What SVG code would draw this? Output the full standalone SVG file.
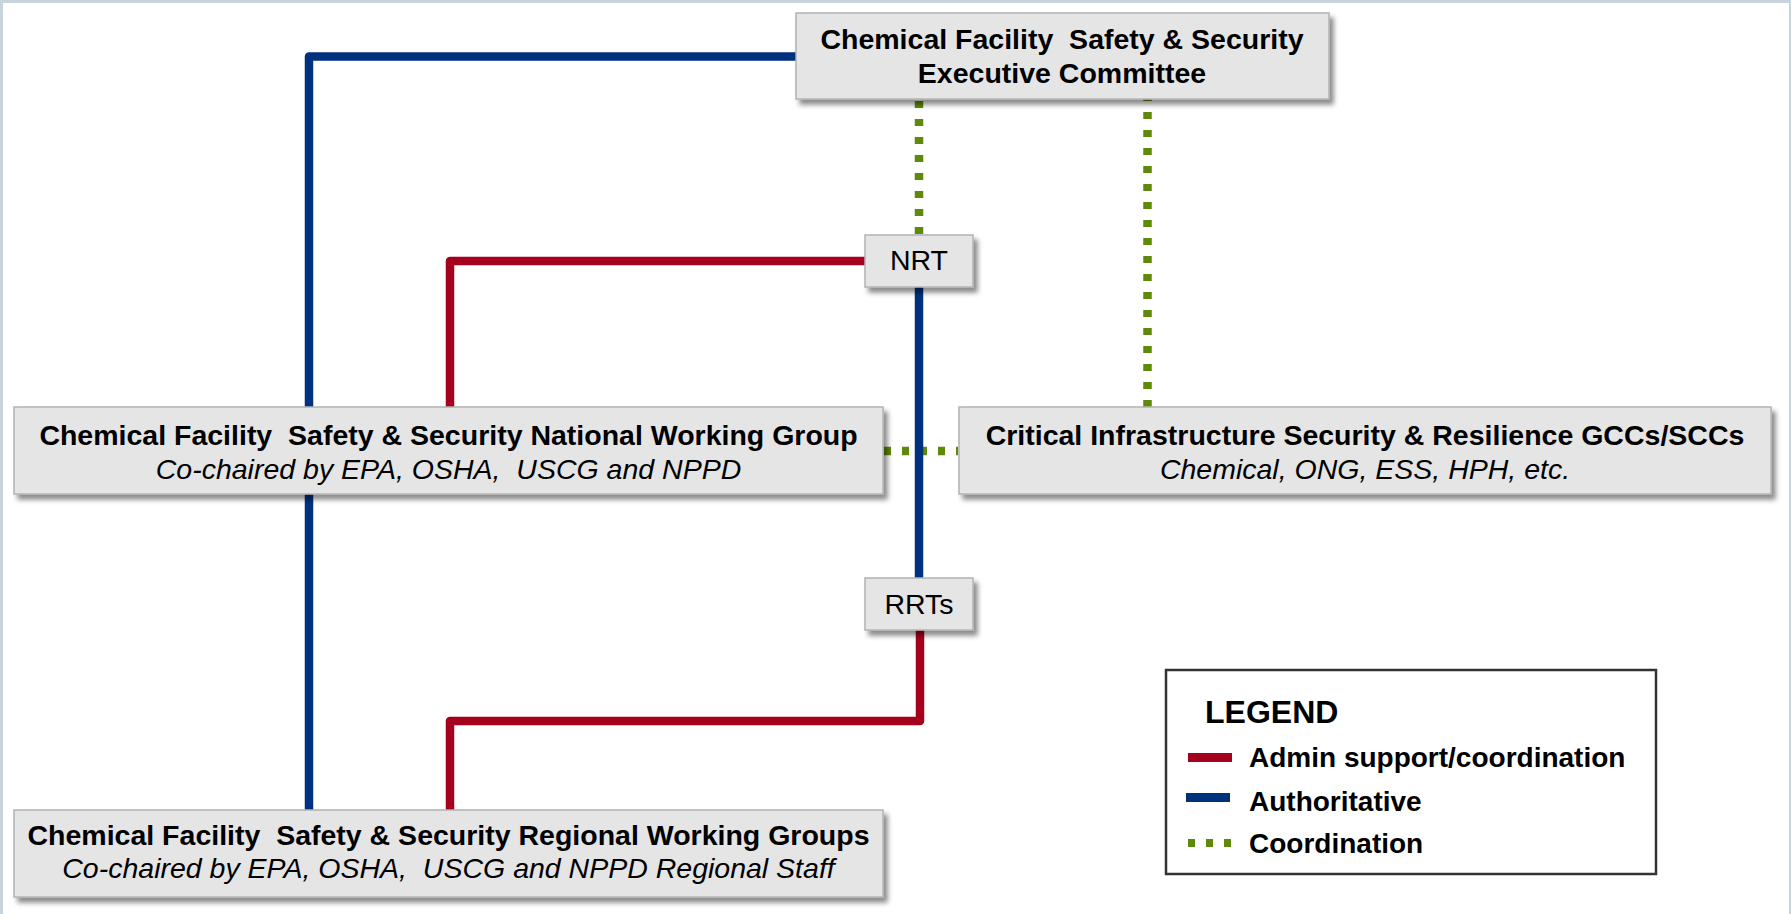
<svg xmlns="http://www.w3.org/2000/svg" width="1791" height="914" viewBox="0 0 1791 914">
<style>
.box{fill:#e5e5e5;stroke:#b3b3b3;stroke-width:1.5;filter:url(#sh)}
.t{font-family:"Liberation Sans",Arial,sans-serif;fill:#000;text-anchor:middle;white-space:pre}
.b{font-weight:bold;font-size:28.5px}
.i{font-style:italic;font-size:28.5px}
.r{font-size:28.5px}
.lt{font-family:"Liberation Sans",Arial,sans-serif;fill:#000;font-weight:bold;font-size:28px}
.blue{fill:none;stroke:#00317f;stroke-width:8.5;stroke-linejoin:round}
.red{fill:none;stroke:#a6001f;stroke-width:8.5;stroke-linejoin:round}
.green{fill:none;stroke:#5e8a0a;stroke-width:8.5;stroke-dasharray:7 11}
</style>
<defs>
<filter id="sh" x="-5%" y="-20%" width="115%" height="150%">
<feDropShadow dx="4" dy="5" stdDeviation="2.5" flood-color="#000" flood-opacity="0.45"/>
</filter>
</defs>
<rect x="0" y="0" width="1791" height="914" fill="#c8d4dc"/>
<rect x="3" y="3" width="1786" height="911" fill="#fff"/>
<g id="connectors">
<path class="blue" d="M796,56.5 H309 V407"/>
<path class="blue" d="M309,494 V810"/>
<path class="red" d="M865,261 H450 V407"/>
<path class="red" d="M920,630 V721 H450 V810"/>
<path class="green" d="M919,101 V235"/>
<path class="green" d="M1147.5,407 V99"/>
<path class="green" d="M884,451 H958"/>
<path class="blue" d="M919,287 V578"/>
</g>
<g id="exec">
<rect class="box" x="796" y="13" width="533" height="86"/>
<text class="t b" x="1062" y="49">Chemical Facility  Safety &amp; Security</text>
<text class="t b" x="1062" y="83">Executive Committee</text>
</g>
<g id="nrt">
<rect class="box" x="865" y="235" width="108" height="52"/>
<text class="t r" x="919" y="270">NRT</text>
</g>
<g id="rrts">
<rect class="box" x="865" y="578" width="108" height="52"/>
<text class="t r" x="919" y="614">RRTs</text>
</g>
<g id="national">
<rect class="box" x="14" y="407" width="869" height="87"/>
<text class="t b" x="448.5" y="445">Chemical Facility  Safety &amp; Security National Working Group</text>
<text class="t i" x="448.5" y="479">Co-chaired by EPA, OSHA,  USCG and NPPD</text>
</g>
<g id="critical">
<rect class="box" x="959" y="407" width="812" height="87"/>
<text class="t b" x="1365" y="445">Critical Infrastructure Security &amp; Resilience GCCs/SCCs</text>
<text class="t i" x="1365" y="479">Chemical, ONG, ESS, HPH, etc.</text>
</g>
<g id="regional">
<rect class="box" x="14" y="810" width="869" height="87"/>
<text class="t b" x="448.5" y="845">Chemical Facility  Safety &amp; Security Regional Working Groups</text>
<text class="t i" x="448.5" y="878">Co-chaired by EPA, OSHA,  USCG and NPPD Regional Staff</text>
</g>
<g id="legend">
<rect x="1166" y="670" width="490" height="204" fill="#fff" stroke="#333" stroke-width="2.5"/>
<text class="lt" x="1205" y="723" style="font-size:32px">LEGEND</text>
<line x1="1188" y1="757.5" x2="1232" y2="757.5" stroke="#a6001f" stroke-width="9"/>
<line x1="1186" y1="797.5" x2="1230" y2="797.5" stroke="#00317f" stroke-width="9"/>
<line x1="1188" y1="843" x2="1232" y2="843" stroke="#5e8a0a" stroke-width="8" stroke-dasharray="7 11"/>
<text class="lt" x="1249" y="767">Admin support/coordination</text>
<text class="lt" x="1249" y="811">Authoritative</text>
<text class="lt" x="1249" y="853">Coordination</text>
</g>
</svg>
